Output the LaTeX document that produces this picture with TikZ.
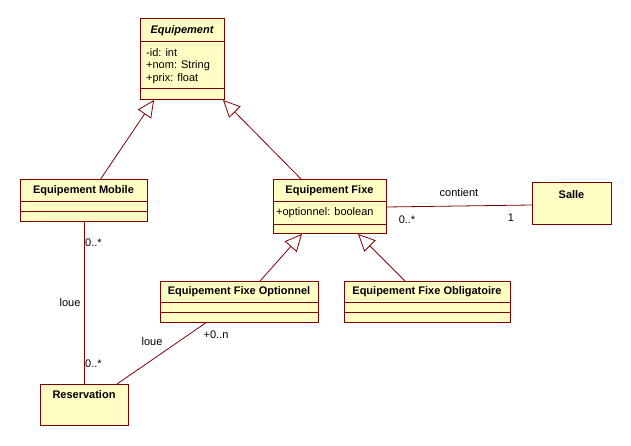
\documentclass[tikz,border=0pt]{standalone}
\usepackage{fontspec}
\setmainfont{Liberation Sans}
\usetikzlibrary{arrows.meta,calc}
\definecolor{umlfill}{RGB}{255,252,196}
\definecolor{umlline}{RGB}{128,0,0}
\begin{document}
\begin{tikzpicture}[x=1pt,y=-1pt,
  classbox/.style={draw=umlline, fill=umlfill, line width=1pt, anchor=north west, inner sep=0pt, outer sep=0pt},
  titletext/.style={font=\fontsize{11}{13}\selectfont\bfseries, inner sep=0pt, text=black},
  attrtext/.style={font=\fontsize{11}{13}\selectfont, anchor=west, inner sep=0pt, text=black},
  lbl/.style={font=\fontsize{11}{13}\selectfont, inner sep=0pt, text=black},
  sepline/.style={draw=umlline, line width=1pt},
  conn/.style={draw=umlline, line width=0.8pt},
  gen/.style={conn, -{Triangle[open, length=17pt, width=16pt, fill=white, line width=0.8pt]}}
]
\useasboundingbox[fill=white] (0,0) rectangle (631,446);

% Equipement
\node[classbox, minimum width=84pt, minimum height=81pt] (equip) at (140,19) {};
\draw[sepline] (140,42) -- (224,42);
\draw[sepline] (140,89) -- (224,89);
\node[titletext, font=\fontsize{11}{13}\selectfont\bfseries\itshape] (equipT) at (182,31) {Equipement};
\node[attrtext] (equipA1) at (146,53) {-id: int};
\node[attrtext] (equipA2) at (146,66) {+nom: String};
\node[attrtext] (equipA3) at (146,79) {+prix: float};

% Equipement Mobile
\node[classbox, minimum width=127pt, minimum height=42pt] (mobile) at (20,180) {};
\draw[sepline] (20,202) -- (147,202);
\draw[sepline] (20,212) -- (147,212);
\node[titletext] (mobileT) at (83.5,191) {Equipement Mobile};

% Equipement Fixe
\node[classbox, minimum width=113pt, minimum height=54pt] (fixe) at (273,180) {};
\draw[sepline] (273,202) -- (386,202);
\draw[sepline] (273,225) -- (386,225);
\node[titletext] (fixeT) at (329.5,191) {Equipement Fixe};
\node[attrtext] (fixeA1) at (276,213) {+optionnel: boolean};

% Salle
\node[classbox, minimum width=79pt, minimum height=42pt] (salle) at (532,183) {};
\node[titletext] (salleT) at (571.5,195) {Salle};

% Equipement Fixe Optionnel
\node[classbox, minimum width=158pt, minimum height=41pt] (opt) at (160,281) {};
\draw[sepline] (160,302) -- (318,302);
\draw[sepline] (160,312) -- (318,312);
\node[titletext] (optT) at (239,292) {Equipement Fixe Optionnel};

% Equipement Fixe Obligatoire
\node[classbox, minimum width=166pt, minimum height=41pt] (oblig) at (344,281) {};
\draw[sepline] (344,302) -- (510,302);
\draw[sepline] (344,312) -- (510,312);
\node[titletext] (obligT) at (427,292) {Equipement Fixe Obligatoire};

% Reservation
\node[classbox, minimum width=88pt, minimum height=41pt] (resa) at (40,384) {};
\node[titletext] (resaT) at (84,395) {Reservation};

% Generalisations
\draw[gen] ($(mobile.north west)+(80,0)$) -- ($(equip.south west)+(14,0)$);
\draw[gen] ($(fixe.north west)+(29,0)$) -- ($(equip.south east)+(-1,0)$);
\draw[gen] ($(opt.north west)+(100,0)$) -- ($(fixe.south west)+(29,0)$);
\draw[gen] ($(oblig.north west)+(61,0)$) -- ($(fixe.south west)+(85,0)$);

% Associations
\draw[conn] ($(fixe.north east)+(0,27)$) -- ($(salle.north west)+(0,22)$);
\draw[conn] ($(mobile.south west)+(64,0)$) -- ($(resa.north west)+(44,0)$);
\draw[conn] ($(opt.south west)+(47,0)$) -- ($(resa.north west)+(77,0)$);

% Labels
\node[lbl] (lcont) at (459,193) {contient};
\node[lbl] (lm1) at (407,220) {0..*};
\node[lbl] (lm2) at (511,218) {1};
\node[lbl, anchor=west] (lm3) at (85,243) {0..*};
\node[lbl] (lloue1) at (70,303) {loue};
\node[lbl, anchor=west] (lm4) at (85,364) {0..*};
\node[lbl] (lloue2) at (152,342) {loue};
\node[lbl] (lm5) at (216,335) {+0..n};
\end{tikzpicture}
\end{document}
